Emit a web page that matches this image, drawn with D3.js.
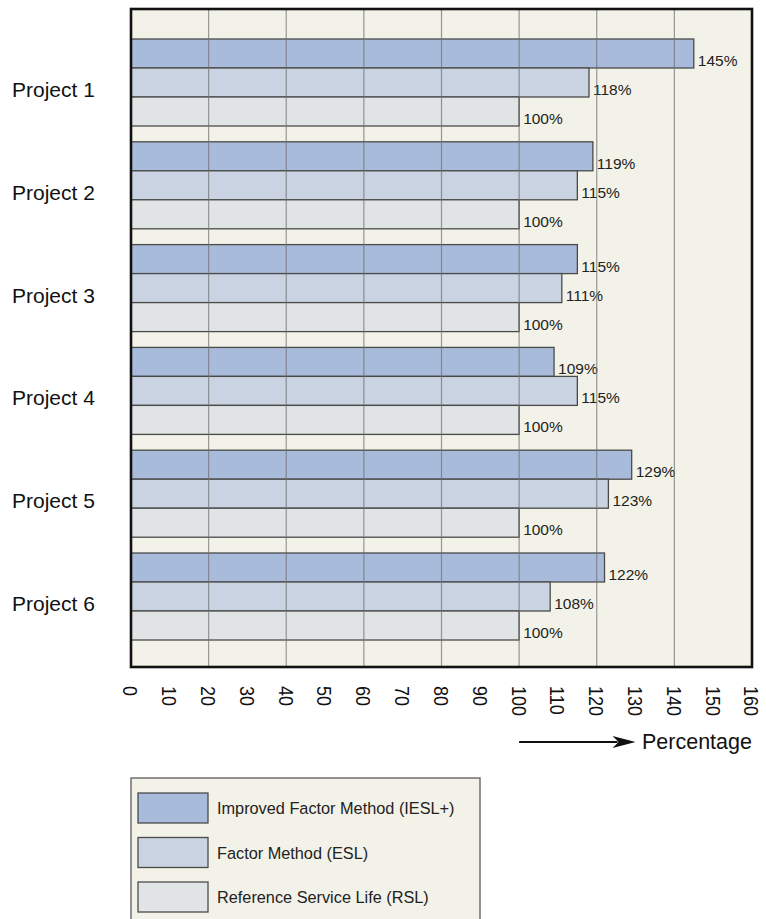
<!DOCTYPE html>
<html>
<head>
<meta charset="utf-8">
<script src="https://cdn.jsdelivr.net/npm/d3@7"></script>
<style>
  body { margin: 0; background: #fff; }
  text { font-family: "Liberation Sans", Arial, sans-serif; }
</style>
</head>
<body>
<svg id="chart" width="766" height="919"></svg>
<script>
// data
var projects = ["Project 1", "Project 2", "Project 3", "Project 4", "Project 5", "Project 6"];
var seriesKeys = ["iesl", "esl", "rsl"];
var seriesNames = ["Improved Factor Method (IESL+)", "Factor Method (ESL)", "Reference Service Life (RSL)"];
var ieslValues = [145, 119, 115, 109, 129, 122];
var eslValues = [118, 115, 111, 115, 123, 108];
var rslValues = [100, 100, 100, 100, 100, 100];
var xTicks = [0, 10, 20, 30, 40, 50, 60, 70, 80, 90, 100, 110, 120, 130, 140, 150, 160];
var gridTicks = [20, 40, 60, 80, 100, 120, 140];

var colors = { iesl: "#a9bbda", esl: "#c9d3e1", rsl: "#e1e4e5" };
var values = { iesl: ieslValues, esl: eslValues, rsl: rslValues };

var svg = d3.select("svg#chart");
var plot = { left: 131, right: 752, top: 9, bottom: 667 };

var x = d3.scaleLinear()
    .domain([0, 160])
    .range([plot.left, plot.right]);

var y0 = d3.scaleBand()
    .domain(projects)
    .range([39, 640])
    .paddingInner(0.1537);

var y1 = d3.scaleBand()
    .domain(seriesKeys)
    .range([0, y0.bandwidth()]);

// background
svg.append("rect")
    .attr("x", plot.left)
    .attr("y", plot.top)
    .attr("width", plot.right - plot.left)
    .attr("height", plot.bottom - plot.top)
    .attr("fill", "#f3f2e8");

// bars
var groups = svg.selectAll(".group")
  .data(projects)
  .enter().append("g")
    .attr("class", "group")
    .attr("transform", function(d) { return "translate(0," + y0(d) + ")"; });

groups.selectAll("rect")
  .data(function(d, i) { return seriesKeys.map(function(k) { return { key: k, value: values[k][i] }; }); })
  .enter().append("rect")
    .attr("x", x(0))
    .attr("y", function(d) { return y1(d.key); })
    .attr("width", function(d) { return x(d.value) - x(0); })
    .attr("height", y1.bandwidth())
    .attr("fill", function(d) { return colors[d.key]; })
    .attr("stroke", "#4a4a4a")
    .attr("stroke-width", 1.3);

// gridlines on top of the bars
svg.append("g")
  .selectAll("line")
  .data(gridTicks)
  .enter().append("line")
    .attr("x1", x)
    .attr("x2", x)
    .attr("y1", plot.top)
    .attr("y2", plot.bottom)
    .attr("stroke", "#6f6f6f")
    .attr("stroke-opacity", 0.7)
    .attr("stroke-width", 1.2);

// value labels
groups.selectAll("text.val")
  .data(function(d, i) { return seriesKeys.map(function(k) { return { key: k, value: values[k][i] }; }); })
  .enter().append("text")
    .attr("class", "val")
    .attr("x", function(d) { return x(d.value) + 4; })
    .attr("y", function(d) { return y1(d.key) + y1.bandwidth() / 2 + 12.5; })
    .attr("font-size", "15.5px")
    .attr("fill", "#222")
    .text(function(d) { return d.value + "%"; });

// frame
svg.append("rect")
    .attr("x", plot.left)
    .attr("y", plot.top)
    .attr("width", plot.right - plot.left)
    .attr("height", plot.bottom - plot.top)
    .attr("fill", "none")
    .attr("stroke", "#111")
    .attr("stroke-width", 2.6);

// project labels
svg.append("g")
  .selectAll("text")
  .data(projects)
  .enter().append("text")
    .attr("x", 12)
    .attr("y", function(d) { return y0(d) + y0.bandwidth() / 2 + 14.5; })
    .attr("font-size", "21px")
    .attr("fill", "#111")
    .text(function(d) { return d; });

// x tick labels, rotated
svg.append("g")
  .selectAll("text")
  .data(xTicks)
  .enter().append("text")
    .attr("transform", function(d) { return "translate(" + x(d) + ",686) rotate(90) scale(0.86,1)"; })
    .attr("dy", "0.36em")
    .attr("font-size", "21px")
    .attr("fill", "#111")
    .text(function(d) { return d; });

// arrow + axis title
var arrowY = 742,
    tip = x(130);
svg.append("line")
    .attr("x1", x(100))
    .attr("x2", tip - 18)
    .attr("y1", arrowY)
    .attr("y2", arrowY)
    .attr("stroke", "#111")
    .attr("stroke-width", 2.2);

svg.append("path")
    .attr("d", "M" + (tip - 23) + "," + (arrowY - 6) + " L" + tip + "," + arrowY + " L" + (tip - 23) + "," + (arrowY + 6) + " L" + (tip - 17) + "," + arrowY + " Z")
    .attr("fill", "#111");

svg.append("text")
    .attr("x", 642)
    .attr("y", 749)
    .attr("font-size", "21.5px")
    .attr("fill", "#111")
    .text("Percentage");

// legend
var legend = svg.append("g");
legend.append("rect")
    .attr("x", 131)
    .attr("y", 778)
    .attr("width", 349)
    .attr("height", 160)
    .attr("fill", "#f3f2e8")
    .attr("stroke", "#666")
    .attr("stroke-width", 1.4);

var item = legend.selectAll(".item")
  .data(seriesKeys)
  .enter().append("g")
    .attr("class", "item")
    .attr("transform", function(d, i) { return "translate(138," + (793 + i * 44.5) + ")"; });

item.append("rect")
    .attr("width", 70)
    .attr("height", 30)
    .attr("fill", function(d) { return colors[d]; })
    .attr("stroke", "#4a4a4a")
    .attr("stroke-width", 1.3);

item.append("text")
    .attr("x", 79)
    .attr("y", 21)
    .attr("font-size", "16.3px")
    .attr("fill", "#222")
    .text(function(d, i) { return seriesNames[i]; });
</script>
</body>
</html>
